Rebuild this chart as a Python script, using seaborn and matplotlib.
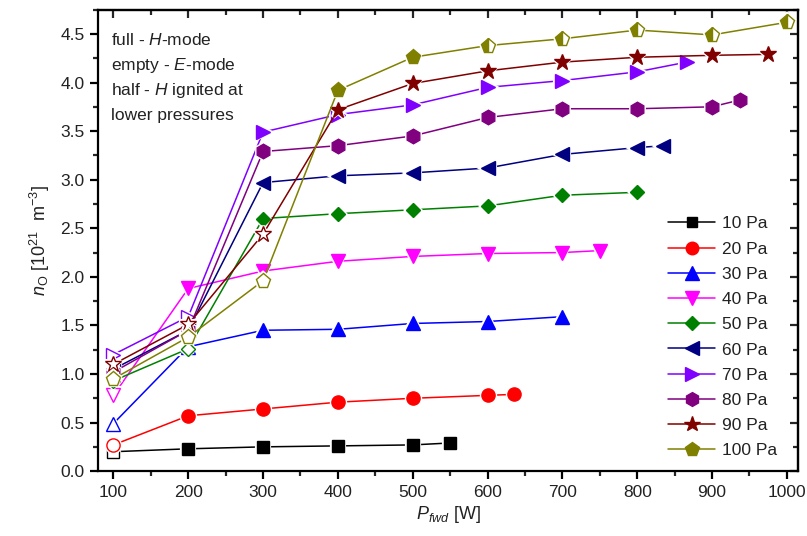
import matplotlib
matplotlib.use("Agg")
import matplotlib.pyplot as plt
from matplotlib.lines import Line2D
from matplotlib.ticker import MultipleLocator, FormatStrFormatter
import numpy as np
import pandas as pd
import seaborn as sns

# ---- data: atomic oxygen density vs forward power, one list per pressure ----
pressures = ["10 Pa", "20 Pa", "30 Pa", "40 Pa", "50 Pa",
             "60 Pa", "70 Pa", "80 Pa", "90 Pa", "100 Pa"]

p10_power = [100, 200, 300, 400, 500, 550]
p10_n = [0.20, 0.23, 0.25, 0.26, 0.27, 0.29]
p10_mode = ["E", "H", "H", "H", "H", "H"]

p20_power = [100, 200, 300, 400, 500, 600, 635]
p20_n = [0.27, 0.57, 0.64, 0.71, 0.75, 0.78, 0.79]
p20_mode = ["E", "H", "H", "H", "H", "H", "H"]

p30_power = [100, 200, 300, 400, 500, 600, 700]
p30_n = [0.49, 1.28, 1.45, 1.46, 1.52, 1.54, 1.59]
p30_mode = ["E", "E", "H", "H", "H", "H", "H"]

p40_power = [100, 200, 300, 400, 500, 600, 700, 750]
p40_n = [0.78, 1.88, 2.06, 2.16, 2.21, 2.24, 2.25, 2.27]
p40_mode = ["E", "H", "H", "H", "H", "H", "H", "H"]

p50_power = [100, 200, 300, 400, 500, 600, 700, 800]
p50_n = [0.93, 1.26, 2.60, 2.65, 2.69, 2.73, 2.84, 2.87]
p50_mode = ["E", "E", "H", "H", "H", "H", "H", "H"]

p60_power = [100, 200, 300, 400, 500, 600, 700, 800, 835]
p60_n = [1.05, 1.45, 2.97, 3.04, 3.07, 3.12, 3.26, 3.33, 3.35]
p60_mode = ["E", "E", "H", "H", "H", "H", "H", "H", "H"]

p70_power = [100, 200, 300, 400, 500, 600, 700, 800, 866]
p70_n = [1.20, 1.59, 3.49, 3.67, 3.77, 3.95, 4.02, 4.11, 4.21]
p70_mode = ["E", "E", "H", "H", "H", "H", "H", "H", "H"]

p80_power = [100, 200, 300, 400, 500, 600, 700, 800, 900, 937]
p80_n = [1.02, 1.45, 3.29, 3.35, 3.45, 3.64, 3.73, 3.73, 3.75, 3.82]
p80_mode = ["E", "E", "H", "H", "H", "H", "H", "H", "H", "H"]

p90_power = [100, 200, 300, 400, 500, 600, 700, 800, 900, 975]
p90_n = [1.10, 1.51, 2.44, 3.72, 3.99, 4.12, 4.21, 4.26, 4.28, 4.29]
p90_mode = ["E", "E", "E", "H", "H", "H", "H", "H", "H", "H"]

p100_power = [100, 200, 300, 400, 500, 600, 700, 800, 900, 1000]
p100_n = [0.95, 1.38, 1.96, 3.92, 4.26, 4.38, 4.45, 4.54, 4.49, 4.62]
p100_mode = ["E", "E", "E", "H", "H", "half", "half", "half", "half", "half"]

x_ticks = [100, 200, 300, 400, 500, 600, 700, 800, 900, 1000]
y_ticks = [0.0, 0.5, 1.0, 1.5, 2.0, 2.5, 3.0, 3.5, 4.0, 4.5]

note_lines = ["full - $\\mathit{H}$-mode",
              "empty - $\\mathit{E}$-mode",
              "half - $\\mathit{H}$ ignited at",
              "lower pressures"]

series = [
    (p10_power, p10_n, p10_mode), (p20_power, p20_n, p20_mode),
    (p30_power, p30_n, p30_mode), (p40_power, p40_n, p40_mode),
    (p50_power, p50_n, p50_mode), (p60_power, p60_n, p60_mode),
    (p70_power, p70_n, p70_mode), (p80_power, p80_n, p80_mode),
    (p90_power, p90_n, p90_mode), (p100_power, p100_n, p100_mode),
]

frames = []
for name, (pw, n, md) in zip(pressures, series):
    frames.append(pd.DataFrame({"pressure": name, "power": pw, "n": n, "mode": md}))
df = pd.concat(frames, ignore_index=True)

# ---- styling ----
colors = ["#000000", "#FF0000", "#0000FF", "#FF00FF", "#008000",
          "#000080", "#8000FF", "#800080", "#800000", "#808000"]
markers = ["s", "o", "^", "v", "D", "<", ">", "h", "*", "p"]
msizes = [8, 9.5, 10, 10, 7.5, 10, 10, 10.5, 12, 11]

sns.set_style("ticks")
plt.rcParams["font.family"] = ["Liberation Sans", "DejaVu Sans"]
plt.rcParams["mathtext.fontset"] = "custom"
plt.rcParams["mathtext.rm"] = "Liberation Sans"
plt.rcParams["mathtext.it"] = "Liberation Sans:italic"
plt.rcParams["mathtext.bf"] = "Liberation Sans:bold"

fig = plt.figure(figsize=(8.07, 5.36), dpi=100)
ax = fig.add_axes([0.122, 0.121, 0.867, 0.861])

for i, name in enumerate(pressures):
    sub = df[df["pressure"] == name]
    z = 2 + i * 0.1
    sns.lineplot(data=sub, x="power", y="n", color=colors[i], lw=1.1,
                 ax=ax, legend=False, zorder=z, sort=False,
                 estimator=None)
    m, ms, c = markers[i], msizes[i], colors[i]
    # white ring leaves a small gap between the line and each symbol
    ax.plot(sub["power"], sub["n"], ls="none", marker=m, ms=ms,
            mfc="white", mec="white", mew=3.0, zorder=z + 0.02)
    for mode, g in sub.groupby("mode"):
        if mode == "H":
            kw = dict(mfc=c, mec=c)
        elif mode == "E":
            kw = dict(mfc="white", mec=c)
        else:
            kw = dict(mfc=c, mec=c, fillstyle="left", markerfacecoloralt="white")
        ax.plot(g["power"], g["n"], ls="none", marker=m, ms=ms, mew=1.0,
                zorder=z + 0.05, **kw)

ax.set_xlim(80, 1015)
ax.set_ylim(0, 4.75)
ax.set_xticks(x_ticks)
ax.set_yticks(y_ticks)
ax.yaxis.set_major_formatter(FormatStrFormatter("%.1f"))
ax.xaxis.set_minor_locator(MultipleLocator(50))
ax.yaxis.set_minor_locator(MultipleLocator(0.25))

for s in ax.spines.values():
    s.set_visible(True)
    s.set_linewidth(1.6)
    s.set_color("black")

ax.tick_params(axis="both", which="major", direction="out", length=6,
               width=1.6, labelsize=12.5, colors="black", pad=4)
ax.tick_params(axis="both", which="minor", direction="out", length=3.5,
               width=1.6)
ax.tick_params(axis="both", which="both", labelcolor="#222222")

# mirrored inward ticks on the top and right spines
axt = ax.secondary_xaxis("top")
axt.set_xticks(x_ticks)
axt.xaxis.set_minor_locator(MultipleLocator(50))
axt.tick_params(which="major", direction="in", length=6, width=1.6, labeltop=False)
axt.tick_params(which="minor", direction="in", length=3.5, width=1.6)
axt.spines["top"].set_linewidth(1.6)
axr = ax.secondary_yaxis("right")
axr.set_yticks(y_ticks)
axr.yaxis.set_minor_locator(MultipleLocator(0.25))
axr.tick_params(which="major", direction="in", length=6, width=1.6, labelright=False)
axr.tick_params(which="minor", direction="in", length=3.5, width=1.6)
axr.spines["right"].set_linewidth(1.6)

ax.set_xlabel("$\\mathit{P}_{\\mathit{fwd}}$ [W]", fontsize=13, color="#222222", labelpad=3)
ax.set_ylabel("$\\mathit{n}_{\\mathrm{O}}$ [10$^{21}$  m$^{-3}$]", fontsize=13,
              color="#222222", labelpad=6)

for k, line in enumerate(note_lines):
    ax.text(0.018, 0.924 - k * 0.0545, line, transform=ax.transAxes,
            fontsize=12.5, color="#222222", va="baseline", ha="left")

handles = [Line2D([], [], color=colors[i], lw=1.1, marker=markers[i],
                  ms=msizes[i] * 0.95, mfc=colors[i], mec=colors[i])
           for i in range(len(pressures))]
leg = ax.legend(handles, pressures, loc="lower right", frameon=False,
                fontsize=12.5, handlelength=2.7, handletextpad=0.4,
                labelspacing=0.58, borderaxespad=0.2,
                bbox_to_anchor=(0.985, 0.005))
for t in leg.get_texts():
    t.set_color("#222222")

fig.savefig("out.png", dpi=100)
